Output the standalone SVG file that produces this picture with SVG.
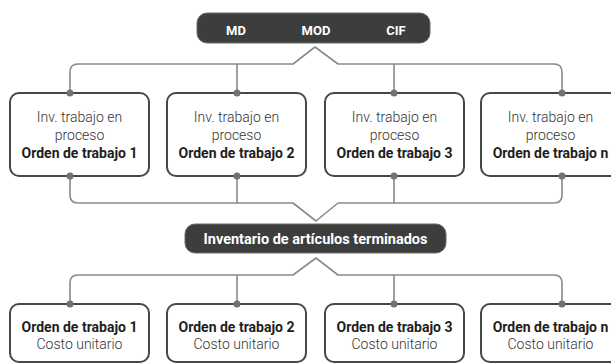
<svg xmlns="http://www.w3.org/2000/svg" width="611" height="363" viewBox="0 0 611 363">
<style>
.box{fill:#fff;stroke:#474747;stroke-width:2}
.pill{fill:#3d3d3d;stroke:#6a6a6a;stroke-width:1}
.con{fill:none;stroke:#8a8a8a;stroke-width:1.6;stroke-linejoin:round}
.dot{fill:#727272}
text{font-family:Roboto,"Liberation Sans",sans-serif;text-anchor:middle}
.lt{font-size:14px;font-weight:300;fill:#333}
.bd{font-size:14px;font-weight:700;fill:#1e1e1e}
.wt{font-weight:700;fill:#fff}
</style>
<rect width="611" height="363" fill="#fff"/>
<g id="connectors">
<path class="con" d="M70,93 V72 Q70,64 78,64 H293 L315,47 L338,64 H554 Q562,64 562,72 V93"/>
<path class="con" d="M237,64 V93 M394,64 V93"/>
<path class="con" d="M70,176 V195 Q70,203 78,203 H293 L316,221 L338,203 H554 Q562,203 562,195 V176"/>
<path class="con" d="M237,176 V203 M394,176 V203"/>
<path class="con" d="M70,304 V283 Q70,275 78,275 H293 L316,258 L338,275 H554 Q562,275 562,283 V304"/>
<path class="con" d="M237,275 V304 M394,275 V304"/>
</g>
<g id="costs">
<rect class="pill" x="197" y="13" width="233" height="30" rx="10"/>
<text class="wt" x="236" y="35" font-size="13">MD</text>
<text class="wt" x="316" y="35" font-size="13">MOD</text>
<text class="wt" x="396" y="35" font-size="13">CIF</text>
</g>
<g id="wip1">
<rect class="box" x="10" y="93" width="139" height="83" rx="9"/>
<text class="lt" x="79.5" y="122">Inv. trabajo en</text>
<text class="lt" x="79.5" y="140">proceso</text>
<text class="bd" x="79.5" y="158">Orden de trabajo 1</text>
</g>
<g id="wip2">
<rect class="box" x="167" y="93" width="139" height="83" rx="9"/>
<text class="lt" x="236.5" y="122">Inv. trabajo en</text>
<text class="lt" x="236.5" y="140">proceso</text>
<text class="bd" x="236.5" y="158">Orden de trabajo 2</text>
</g>
<g id="wip3">
<rect class="box" x="325" y="93" width="139" height="83" rx="9"/>
<text class="lt" x="394.5" y="122">Inv. trabajo en</text>
<text class="lt" x="394.5" y="140">proceso</text>
<text class="bd" x="394.5" y="158">Orden de trabajo 3</text>
</g>
<g id="wipn">
<rect class="box" x="481" y="93" width="139" height="83" rx="9"/>
<text class="lt" x="550.5" y="122">Inv. trabajo en</text>
<text class="lt" x="550.5" y="140">proceso</text>
<text class="bd" x="550.5" y="158">Orden de trabajo n</text>
</g>
<g id="finished">
<rect class="pill" x="185" y="224" width="261" height="29" rx="10"/>
<text class="wt" x="315.5" y="244" font-size="14.5">Inventario de artículos terminados</text>
</g>
<g id="unit1">
<rect class="box" x="10" y="304" width="139" height="58" rx="9"/>
<text class="bd" x="79.5" y="332">Orden de trabajo 1</text>
<text class="lt" x="79.5" y="349">Costo unitario</text>
</g>
<g id="unit2">
<rect class="box" x="167" y="304" width="139" height="58" rx="9"/>
<text class="bd" x="236.5" y="332">Orden de trabajo 2</text>
<text class="lt" x="236.5" y="349">Costo unitario</text>
</g>
<g id="unit3">
<rect class="box" x="325" y="304" width="139" height="58" rx="9"/>
<text class="bd" x="394.5" y="332">Orden de trabajo 3</text>
<text class="lt" x="394.5" y="349">Costo unitario</text>
</g>
<g id="unitn">
<rect class="box" x="481" y="304" width="139" height="58" rx="9"/>
<text class="bd" x="550.5" y="332">Orden de trabajo n</text>
<text class="lt" x="550.5" y="349">Costo unitario</text>
</g>
<g id="dots">
<circle class="dot" cx="70" cy="93" r="3.5"/><circle class="dot" cx="237" cy="93" r="3.5"/><circle class="dot" cx="394" cy="93" r="3.5"/><circle class="dot" cx="562" cy="93" r="3.5"/>
<circle class="dot" cx="70" cy="176" r="3.5"/><circle class="dot" cx="237" cy="176" r="3.5"/><circle class="dot" cx="394" cy="176" r="3.5"/><circle class="dot" cx="562" cy="176" r="3.5"/>
<circle class="dot" cx="70" cy="304" r="3.5"/><circle class="dot" cx="237" cy="304" r="3.5"/><circle class="dot" cx="394" cy="304" r="3.5"/><circle class="dot" cx="562" cy="304" r="3.5"/>
</g>
</svg>
